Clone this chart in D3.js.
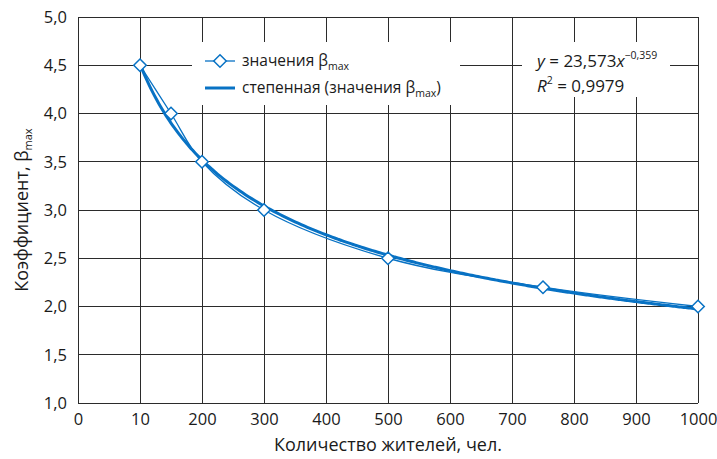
<!DOCTYPE html>
<html><head><meta charset="utf-8">
<script src="https://cdn.jsdelivr.net/npm/d3@7"></script>
<style>body{margin:0;background:#fff}text{font-family:"Open Sans",sans-serif;fill:#1a1a1a}</style>
</head><body><svg id="c" width="717" height="459"></svg>
<script>
const xValues = [100, 150, 200, 300, 500, 750, 1000];
const betaMax = [4.5, 4.0, 3.5, 3.0, 2.5, 2.2, 2.0];
const xTicks = [0, 100, 200, 300, 400, 500, 600, 700, 800, 900, 1000];
const xTickLabels = ["0", "10", "200", "300", "400", "500", "600", "700", "800", "900", "1000"];
const yTicks = [1.0, 1.5, 2.0, 2.5, 3.0, 3.5, 4.0, 4.5, 5.0];
const fitA = 23.573, fitB = -0.359, fitR2 = "0,9979";

const svg = d3.select("#c");
const L = 78, R = 698, T = 17, B = 403;
const x = d3.scaleLinear().domain([0, 1000]).range([L, R]);
const y = d3.scaleLinear().domain([1, 5]).range([B, T]);
const blue = "#0872c4";
const fmt = v => d3.format(".1f")(v).replace(".", ",");

// grid
svg.append("g").selectAll("line").data(yTicks).join("line")
  .attr("x1", L).attr("x2", R).attr("y1", d => y(d)).attr("y2", d => y(d))
  .attr("stroke", "#2b2b2b").attr("stroke-width", 1).attr("shape-rendering", "crispEdges");
svg.append("g").selectAll("line").data(xTicks).join("line")
  .attr("y1", T).attr("y2", B).attr("x1", d => x(d)).attr("x2", d => x(d))
  .attr("stroke", "#2b2b2b").attr("stroke-width", 1).attr("shape-rendering", "crispEdges");

// axes labels via d3 axes
const xa = svg.append("g").attr("transform", `translate(0,${B})`)
  .call(d3.axisBottom(x).tickValues(xTicks).tickSize(0).tickPadding(10)
    .tickFormat((d, i) => xTickLabels[i]));
xa.select(".domain").remove();
xa.selectAll("text").attr("font-size", 16.5).style("font-family", '"Open Sans",sans-serif').attr("fill", "#1a1a1a");
const ya = svg.append("g").attr("transform", `translate(${L},0)`)
  .call(d3.axisLeft(y).tickValues(yTicks).tickSize(0).tickPadding(11).tickFormat(fmt));
ya.select(".domain").remove();
ya.selectAll("text").attr("font-size", 16.5).style("font-family", '"Open Sans",sans-serif').attr("fill", "#1a1a1a");

// legend box & equation box
svg.append("rect").attr("x", 192).attr("y", 42).attr("width", 268).attr("height", 63).attr("fill", "#fff");
svg.append("rect").attr("x", 522).attr("y", 42).attr("width", 148).attr("height", 55).attr("fill", "#fff");

// trend line
const fx = d3.range(100, 1000.1, 5);
const line = d3.line().x(d => x(d[0])).y(d => y(d[1])).curve(d3.curveMonotoneX);
svg.append("path").datum(fx.map(v => [v, fitA * Math.pow(v, fitB)]))
  .attr("d", line).attr("fill", "none").attr("stroke", blue).attr("stroke-width", 3);

// data line
const pts = xValues.map((v, i) => [v, betaMax[i]]);
svg.append("path").datum(pts).attr("d", d3.line().x(d => x(d[0])).y(d => y(d[1])).curve(d3.curveCatmullRom.alpha(0.5)))
  .attr("fill", "none").attr("stroke", blue).attr("stroke-width", 1.3);
const diamond = d3.symbol().type(d3.symbolDiamond2).size(100);
svg.append("g").selectAll("path").data(pts).join("path")
  .attr("d", diamond).attr("transform", d => `translate(${x(d[0])},${y(d[1])})`)
  .attr("fill", "#fff").attr("stroke", blue).attr("stroke-width", 1.5);

// legend
const lg = svg.append("g");
lg.append("line").attr("x1", 205).attr("x2", 235).attr("y1", 61).attr("y2", 61).attr("stroke", blue).attr("stroke-width", 1.3);
lg.append("path").attr("d", diamond).attr("transform", "translate(220,61)").attr("fill", "#fff").attr("stroke", blue).attr("stroke-width", 1.5);
lg.append("line").attr("x1", 205).attr("x2", 235).attr("y1", 88).attr("y2", 88).attr("stroke", blue).attr("stroke-width", 3);
const t1 = lg.append("text").attr("x", 242).attr("y", 66).attr("font-size", 15.5);
t1.append("tspan").text("значения β");
t1.append("tspan").attr("font-size", 10.5).attr("dy", 4).text("max");
const t2 = lg.append("text").attr("x", 242).attr("y", 93).attr("font-size", 15.5);
t2.append("tspan").text("степенная (значения β");
t2.append("tspan").attr("font-size", 10.5).attr("dy", 4).text("max");
t2.append("tspan").attr("dy", -4).text(")");

// equation
const e1 = svg.append("text").attr("x", 537).attr("y", 67).attr("font-size", 17);
e1.append("tspan").attr("font-style", "italic").text("y");
e1.append("tspan").text(" = " + String(fitA).replace(".", ","));
e1.append("tspan").attr("font-style", "italic").text("x");
e1.append("tspan").attr("font-size", 10.5).attr("dy", -8).text("−" + String(-fitB).replace(".", ","));
const e2 = svg.append("text").attr("x", 537).attr("y", 92).attr("font-size", 17);
e2.append("tspan").attr("font-style", "italic").text("R");
e2.append("tspan").attr("font-size", 10.5).attr("dy", -8).text("2");
e2.append("tspan").attr("dy", 8).text(" = " + fitR2);

// axis titles
svg.append("text").attr("x", (L + R) / 2).attr("y", 451).attr("text-anchor", "middle").attr("font-size", 18)
  .text("Количество жителей, чел.");
const yt = svg.append("text").attr("transform", `translate(28,${(T + B) / 2}) rotate(-90)`)
  .attr("text-anchor", "middle").attr("font-size", 18);
yt.append("tspan").text("Коэффициент, β");
yt.append("tspan").attr("font-size", 11).attr("dy", 4).text("max");
</script></body></html>
